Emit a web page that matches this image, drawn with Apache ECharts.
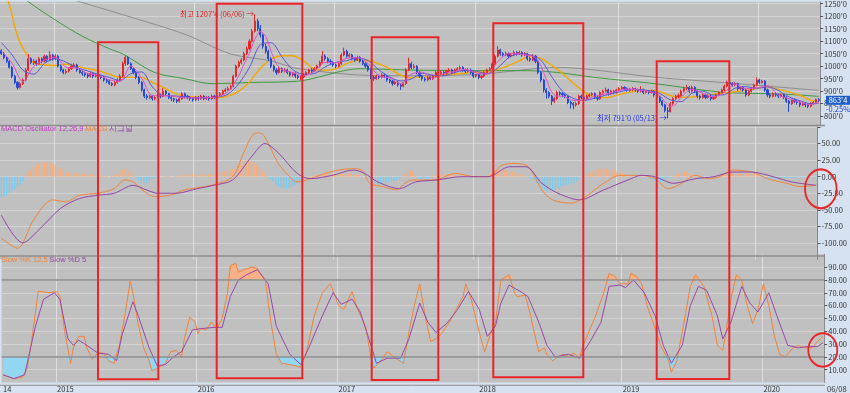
<!DOCTYPE html>
<html><head><meta charset="utf-8">
<script src="https://cdn.jsdelivr.net/npm/echarts@6/dist/echarts.min.js"></script>
<style>html,body{margin:0;padding:0;background:#d6e2ef}#c{width:850px;height:393px}</style>
</head><body><div id="c"></div><script>
// weekly candles: [open, close, low, high], week of 2014-08-18 .. 2020-06-08
const weeklyOHLC = [
[1062,1050,1045,1068],[1050,1035,1028,1056],[1035,1020,1012,1040],[1020,995,990,1024],[995,960,952,1000],[960,935,928,966],[935,915,906,940],[915,930,910,936],[930,945,925,952],[945,985,940,992],
[985,1030,980,1049],[1030,1015,1008,1036],[1015,1020,1005,1028],[1020,1010,1002,1026],[1010,1030,1005,1036],[1030,1020,1012,1035],[1020,1040,1015,1046],[1040,1025,1018,1044],[1025,1045,1020,1060],[1045,1030,1022,1050],
[1030,1040,1024,1048],[1040,1000,995,1044],[1000,985,978,1006],[985,975,968,990],[975,980,968,988],[980,990,975,996],[990,1000,985,1010],[1000,1005,994,1012],[1005,985,978,1010],[985,975,970,990],
[975,970,962,982],[970,965,958,975],[965,960,952,972],[960,970,955,976],[970,960,952,975],[960,965,955,972],[965,960,952,970],[960,955,948,966],[955,945,938,960],[945,940,932,950],
[940,930,925,946],[930,925,920,936],[925,935,920,940],[935,945,930,952],[945,960,940,968],[960,1010,955,1018],[1010,1035,1002,1042],[1035,1010,1005,1040],[1010,990,985,1015],[990,975,968,995],
[975,955,948,980],[955,935,928,960],[935,905,898,940],[905,880,872,910],[880,875,866,888],[875,880,868,886],[880,870,862,884],[870,875,864,880],[875,885,870,892],[885,880,872,890],
[880,900,876,912],[900,890,882,905],[890,875,868,894],[875,870,860,880],[870,865,856,874],[865,860,852,870],[860,870,855,876],[870,890,865,896],[890,880,872,894],[880,875,868,884],
[875,870,862,880],[870,865,858,875],[865,875,860,880],[875,870,862,880],[870,880,865,885],[880,870,864,884],[870,875,865,880],[875,870,862,880],[870,880,865,886],[880,875,868,884],
[875,885,870,890],[885,890,880,896],[890,900,885,905],[900,905,895,912],[905,910,900,918],[910,920,905,926],[920,960,915,966],[960,1000,955,1006],[1000,1015,994,1022],[1015,1025,1008,1032],
[1025,1050,1020,1058],[1050,1070,1044,1078],[1070,1100,1064,1108],[1100,1140,1095,1150],[1140,1180,1135,1207.5],[1180,1150,1140,1190],[1150,1125,1115,1165],[1125,1080,1070,1130],[1080,1060,1050,1090],[1060,1030,1020,1066],
[1030,1000,992,1036],[1000,985,978,1006],[985,975,965,992],[975,990,970,996],[990,980,972,995],[980,985,975,992],[985,975,968,990],[975,965,958,980],[965,970,958,976],[970,960,952,975],
[960,955,948,965],[950,957,945,962],[957,965,952,972],[965,975,960,980],[975,985,970,990],[985,980,972,992],[980,990,976,996],[990,1000,985,1006],[1000,1015,995,1022],[1015,1040,1010,1061],
[1040,1030,1022,1048],[1030,1020,1012,1036],[1020,1015,1006,1028],[1015,1005,998,1020],[1005,1000,992,1010],[1000,1010,995,1016],[1010,1045,1005,1052],[1045,1060,1040,1074],[1060,1040,1034,1066],[1040,1045,1034,1052],
[1045,1030,1024,1050],[1030,1025,1018,1036],[1025,1035,1020,1042],[1035,1020,1014,1040],[1020,1010,1004,1026],[1010,1000,994,1015],[1000,985,978,1005],[985,955,948,990],[955,950,942,962],[950,960,945,966],
[960,955,948,966],[955,965,950,972],[965,960,952,970],[960,945,938,965],[945,940,932,950],[940,930,922,946],[930,935,925,940],[935,925,918,940],[925,920,905,930],[920,930,915,936],
[930,985,925,992],[985,1010,980,1034],[1010,995,988,1018],[995,1000,990,1008],[1000,975,968,1004],[975,960,952,980],[960,950,942,965],[950,945,938,955],[945,955,940,960],[955,950,944,960],
[950,960,945,966],[960,975,955,980],[975,970,962,980],[970,975,965,982],[975,970,962,980],[970,980,965,986],[980,985,975,992],[985,975,968,990],[975,985,970,990],[985,990,980,996],
[990,995,985,1002],[995,985,978,1000],[985,980,972,990],[980,985,975,992],[985,975,968,990],[975,960,952,980],[960,965,955,970],[965,955,948,970],[955,960,948,965],[960,975,955,980],
[975,985,970,990],[985,990,980,996],[990,1010,985,1016],[1010,1040,1005,1046],[1040,1065,1035,1080],[1065,1050,1042,1070],[1050,1045,1038,1056],[1045,1050,1040,1058],[1050,1040,1032,1055],[1040,1045,1035,1052],
[1045,1055,1040,1062],[1055,1050,1042,1060],[1050,1055,1045,1062],[1055,1045,1038,1060],[1045,1050,1040,1056],[1050,1030,1022,1054],[1030,1025,1018,1036],[1025,1040,1020,1048],[1040,1020,1012,1045],[1020,975,968,1025],
[975,945,935,980],[945,905,895,950],[905,895,870,912],[895,880,872,900],[880,860,845,885],[860,870,852,876],[870,895,865,902],[895,890,882,900],[890,885,876,896],[885,880,872,890],
[880,855,848,884],[855,850,830,862],[850,845,828,856],[845,850,838,858],[850,880,845,886],[880,875,868,886],[875,870,862,880],[870,880,865,886],[880,885,875,892],[885,890,880,896],
[890,875,868,895],[875,870,862,880],[870,895,865,900],[895,900,890,906],[900,905,895,914],[905,890,882,910],[890,900,885,906],[900,895,888,904],[895,905,890,910],[905,910,900,916],
[910,915,904,920],[915,910,902,920],[910,905,898,915],[903,906,898,912],[906,910,900,916],[910,905,898,914],[905,900,893,910],[900,905,895,920],[905,895,888,910],[895,900,890,905],
[900,895,888,905],[895,900,890,906],[900,885,878,904],[885,875,868,890],[875,860,852,880],[860,845,838,864],[845,822,815,850],[822,818,791,836],[818,850,815,856],[850,870,845,876],
[870,880,865,886],[878,882,872,890],[882,900,878,906],[900,910,895,918],[910,915,904,925],[915,900,892,920],[900,915,895,922],[915,900,892,920],[900,880,872,904],[880,875,866,886],
[875,885,870,890],[885,875,868,890],[875,880,870,886],[880,870,862,885],[870,875,865,880],[875,885,870,890],[885,895,880,900],[895,905,890,910],[905,920,900,926],[920,935,915,942],
[935,930,922,940],[930,925,918,936],[925,930,920,936],[930,910,902,934],[910,915,905,920],[915,905,898,920],[905,885,878,910],[885,900,880,905],[900,910,895,915],[910,925,905,930],
[925,945,920,955],[945,935,928,950],[935,940,930,946],[940,905,898,944],[905,885,876,910],[885,880,872,890],[880,890,875,895],[890,885,878,895],[885,880,872,890],[880,885,875,890],
[885,875,868,890],[875,860,852,880],[860,850,817,866],[850,865,845,870],[865,860,852,870],[860,855,846,866],[855,845,836,860],[845,850,840,856],[850,845,836,855],[845,840,832,850],
[840,850,835,856],[850,855,845,860],[855,866,848,870],[866,863.5,856,872]
];
// moving averages: [week index, value]
const ma5 = [[0,1061],[4,1012],[8,937],[12,999],[16,1024],[20,1036],[24,996],[28,992],[32,971],[36,963],[40,946],[44,939],[48,1001],[52,952],[56,882],[60,882],[64,880],[68,873],[72,873],[76,874],[80,877],[84,898],[88,961],[90,1010],[92,1052],[94,1108],[96,1139],[98,1119],[100,1059],[102,1010],[104,986],[108,975],[112,961],[116,979],[120,1015],[124,1014],[128,1031],[132,1035],[136,1010],[140,961],[144,953],[148,930],[152,968],[156,976],[160,952],[164,970],[168,979],[172,987],[176,973],[180,968],[184,1018],[188,1050],[192,1049],[196,1041],[198,1033],[200,1001],[202,948],[204,897],[206,880],[208,880],[212,863],[216,864],[220,880],[224,889],[228,899],[232,909],[236,905],[240,899],[244,883],[246,857],[248,839],[250,848],[252,876],[256,908],[260,891],[264,877],[268,896],[272,928],[276,909],[280,913],[284,922],[288,884],[292,870],[296,855],[300,846],[303,855]];
const ma10 = [[0,1095],[4,1045],[8,984],[12,968],[16,1011],[20,1030],[24,1016],[28,994],[32,981],[36,967],[40,955],[44,943],[48,970],[52,977],[56,917],[60,882],[64,881],[68,877],[72,873],[76,874],[80,876],[84,888],[88,930],[92,996],[96,1086],[100,1094],[104,1038],[108,986],[112,968],[116,970],[120,997],[124,1015],[128,1022],[132,1033],[136,1022],[140,985],[144,957],[148,941],[152,949],[156,972],[160,964],[164,961],[168,975],[172,983],[176,980],[180,970],[184,993],[188,1034],[192,1050],[196,1045],[200,1024],[204,958],[208,900],[212,871],[216,863],[220,872],[224,884],[228,894],[232,904],[236,907],[240,902],[244,891],[248,865],[252,858],[256,892],[260,900],[264,884],[268,886],[272,912],[276,918],[280,911],[284,917],[288,903],[292,877],[296,862],[300,850],[303,851]];
const ma20 = [[0,1330],[3,1245],[6,1120],[9,1054],[12,1014],[16,1005],[20,1003],[24,1008],[28,1000],[32,990],[36,981],[40,968],[44,955],[48,955],[52,955],[56,935],[60,915],[64,893],[68,879],[72,877],[76,875],[80,874],[84,880],[88,900],[92,937],[96,992],[100,1028],[104,1042],[108,1042],[112,1021],[116,988],[120,984],[124,989],[128,1010],[132,1024],[136,1023],[140,1009],[144,990],[148,964],[152,953],[156,957],[160,957],[164,967],[168,969],[172,972],[176,977],[180,977],[184,987],[188,1002],[192,1021],[196,1040],[200,1031],[204,1003],[208,971],[212,932],[216,898],[220,876],[224,874],[228,883],[232,894],[236,901],[240,903],[244,898],[248,882],[252,875],[256,877],[260,879],[264,888],[268,893],[272,898],[276,903],[280,912],[284,918],[288,907],[292,897],[296,883],[300,864],[303,857]];
const ma60 = [[0,1340],[10,1258],[20,1185],[30,1120],[40,1070],[45,1049],[57,974],[68,950],[78,930],[93,935],[110,940],[133,990],[150,985],[176,982],[195,982],[206,975],[220,955],[243,929],[267,896],[290,888],[303,879]];
const ma120 = [[0,1350],[29,1258],[50,1190],[68,1128],[85,1049],[100,1021],[110,990],[140,962],[175,966],[206,995],[243,955],[267,935],[303,903]];
// MACD (12,26,9) lines: [week index, value]
const macdLine = [[0,-93],[6,-108],[12,-65],[19,-35],[24,-38],[29,-28],[36,-25],[42,-18],[46,-5],[49,-8],[54,-25],[57,-30],[63,-28],[68,-20],[78,-13],[86,0],[90,35],[94,65],[96,66],[98,60],[103,20],[108,-3],[110,-8],[115,-3],[122,7],[130,12],[134,10],[137,-10],[142,-15],[147,-20],[150,-10],[153,-5],[161,-5],[169,5],[176,0],[181,0],[186,17],[191,20],[196,15],[201,-20],[205,-35],[212,-40],[218,-28],[224,-10],[230,2],[238,2],[243,-3],[248,-18],[253,-10],[258,2],[263,-3],[267,0],[272,10],[279,7],[285,-3],[292,-10],[297,-15],[303,-13]];
const signalLine = [[0,-58],[8,-100],[14,-80],[22,-48],[29,-33],[36,-28],[42,-25],[49,-13],[54,-20],[58,-25],[65,-25],[73,-18],[79,-13],[86,-5],[93,30],[98,50],[103,36],[110,5],[115,-3],[123,2],[131,10],[135,5],[140,-8],[148,-18],[154,-8],[162,-5],[171,0],[181,0],[189,15],[195,15],[201,-10],[207,-25],[215,-35],[224,-20],[233,-5],[238,2],[243,0],[250,-10],[258,-3],[265,0],[272,7],[279,7],[287,0],[294,-8],[303,-13]];
// MACD oscillator, one value per week
const macdOsc = [-32,-30,-28,-25,-22,-19,-16,-12,-8,
3,7,11,15,18,20,21,22,22,21,20,18,15,12,10,8,
6,6,5,5,6,5,5,4,4,3,3, 2,2,1,1,0,1,2, 4,8,11,12,10,6,2, -3,-6,-9,-10,-9,-7,-4,-2,
-1,0,0,1,1,0,0,1,1, 2,3,3,4,4,4,4,3,3,4,4,4,5, 5,6,7,8,9,10,12,14,17, 20,22,24,25,24, 22,18,14,10,5, 1,-3,
-8,-12,-15,-17,-18,-18,-17,-15,-13,-10,-6,-3, 0,1,1,2,2, 3,4,4,5,5,5,4,4,4,4,5,5,4,4,3,3, 2,0,-2,
-5,-8,-10,-11,-11,-10,-9,-8,-7,-6,-5,-3,-1, 4,8,10,7, 2,-2,-4,-5,-4,-3, 1,2,2,3,3,3,4,4,3,3,3,2,2,1,
0,0,-1,0,0,0,1,2, 4,7,9,10,10,10,9,8,7, 6,5,4,2,1, -1,-3,-5,-9, -13,-17,-20,-22,-22,-21,-19, -17,-15,-14,-13,-12,-11,-10,
-7,-4,-1,2,4,6,8,10,11,12,12,12,11,10,9,8,7,6,4,2,1, 0,0,0,1,0,0, -2,-4,-6,-8,-8,-7,-5,-2, 0,1, 3,5,7,8,7,5,3,
1,-1,-2,-2,-2,-1,-1,0,0, 2,3,4,5,5,5,5,4,4,4,5,5,4,4,3, 1,-1,-2,-3,-3,-3,-3,-2, -2,-2,-2,-2,-2,-2,-1,-1,-1,-1,-1,-1,-1,-1];
// Slow stochastic: [week index, value]
const slowK = [[0,6],[4,3],[7,4],[9,11],[11,39],[13,71],[14,71],[17,70],[20,71],[21,67],[23,37],[25,15],[26,27],[28,36],[30,36],[31,27],[33,18],[35,23],[37,23],[39,17],[41,15],[43,29],[45,52],[47,79],[48,70],[50,45],[52,27],[54,17],[55,9],[57,11],[60,15],[62,24],[64,25],[66,20],[67,34],[69,51],[71,47],[72,38],[73,42],[75,41],[77,47],[79,42],[81,50],[83,70],[84,91],[86,93],[87,86],[89,88],[92,90],[94,89],[97,79],[99,47],[101,22],[103,15],[106,14],[110,12],[112,22],[115,52],[118,70],[121,77],[124,60],[126,57],[129,71],[131,57],[134,44],[136,19],[137,11],[140,18],[142,24],[145,19],[148,15],[150,39],[152,60],[154,77],[156,52],[158,32],[160,34],[162,38],[165,47],[167,55],[170,67],[171,77],[173,65],[176,39],[178,24],[180,37],[182,47],[184,80],[187,84],[189,70],[190,67],[193,68],[195,52],[196,42],[198,24],[200,27],[201,22],[203,17],[207,22],[209,20],[211,23],[213,19],[214,27],[217,42],[219,52],[222,70],[224,85],[226,83],[228,77],[231,77],[232,85],[234,83],[236,77],[238,60],[241,42],[243,29],[246,17],[247,8],[249,17],[251,39],[254,75],[256,84],[257,81],[259,75],[262,52],[264,29],[266,25],[267,37],[269,65],[271,84],[273,80],[275,60],[277,46],[279,57],[281,77],[283,60],[285,37],[287,22],[289,20],[292,27],[294,29],[296,27],[299,27],[301,32],[303,36]];
const slowD = [[0,6],[4,3],[8,6],[12,44],[15,65],[19,70],[21,65],[24,34],[26,29],[28,33],[31,29],[35,23],[39,22],[42,17],[44,37],[48,63],[50,52],[54,27],[57,13],[60,14],[63,20],[66,24],[70,41],[73,42],[78,43],[81,43],[84,67],[87,80],[90,84],[94,88],[98,77],[101,44],[106,22],[110,14],[113,27],[118,52],[122,70],[125,61],[129,65],[132,55],[136,29],[138,15],[142,19],[147,19],[150,34],[154,62],[157,47],[160,39],[164,46],[168,57],[172,71],[176,57],[179,36],[182,44],[184,62],[187,76],[192,70],[194,67],[198,47],[201,29],[204,20],[209,22],[213,19],[217,32],[221,47],[224,75],[228,76],[230,74],[233,80],[237,70],[241,52],[244,29],[247,15],[251,29],[254,60],[257,75],[260,72],[264,52],[266,34],[269,47],[273,75],[276,62],[279,55],[283,70],[286,52],[290,29],[294,27],[297,28],[301,28],[303,31]];
const lastChangePct = '-0.25%';

const FONT = '"Noto Sans CJK KR","Noto Sans",sans-serif';
const N = weeklyOHLC.length;
const t0 = Date.UTC(2014, 7, 18);
const dates = [];
for (let i = 0; i < N; i++) dates.push(new Date(t0 + i * 7 * 864e5).toISOString().slice(0, 10));
const yearStart = dates.map((d, i) => i > 0 && d.slice(0, 4) !== dates[i - 1].slice(0, 4));
const md = i => dates[i].slice(5, 7) + '/' + dates[i].slice(8, 10);
const fmtP = v => { const n = Math.floor(v + 1e-9); return n + "'" + Math.round((v - n) * 8); };
const P = arr => arr.map(([i, v]) => [dates[i], v]);
const highs = weeklyOHLC.map(r => r[3]), lows = weeklyOHLC.map(r => r[2]);
let hiIdx = 0, loIdx = 0;
highs.forEach((v, i) => { if (v > highs[hiIdx]) hiIdx = i; });
lows.forEach((v, i) => { if (v < lows[loIdx]) loIdx = i; });
const lastClose = weeklyOHLC[N - 1][1];

const chart = echarts.init(document.getElementById('c'));
const xBase = (g) => ({
  type: 'category', gridIndex: g, data: dates, boundaryGap: true,
  axisLine: { show: false }, axisTick: { show: false }, axisLabel: { show: false },
  splitLine: { show: true, interval: (i) => yearStart[i], lineStyle: { color: '#dedede', width: 1 } }
});
const yBase = (g) => ({
  type: 'value', gridIndex: g, position: 'right',
  axisLine: { show: true, lineStyle: { color: '#8a8a8a' } },
  axisTick: { show: true, length: 3, lineStyle: { color: '#555' } },
  axisLabel: { fontSize: 7.5, color: '#333', margin: 4, fontFamily: FONT, showMinLabel: false, showMaxLabel: false },
  splitLine: { show: true, showMinLine: false, showMaxLine: false, lineStyle: { color: '#d3d3d3', width: 1 } }
});
const yPrice = yBase(0); Object.assign(yPrice, { min: 762.5, max: 1257.9, splitNumber: 10 });
yPrice.axisLabel.formatter = fmtP;
const yMacd = yBase(1); Object.assign(yMacd, { min: -125, max: 78, interval: 25 });
yMacd.axisLabel.formatter = v => (v > 60 ? '' : v.toFixed(2));
const yStoch = yBase(2); Object.assign(yStoch, { min: 0, max: 100, interval: 10 });
yStoch.axisLabel.formatter = v => v.toFixed(2);
const xStoch = xBase(2);
xStoch.axisLabel = { show: true, interval: (i) => i === 0 || yearStart[i], formatter: (v, i) => i === 0 ? v.slice(2, 4) : v.slice(0, 4), align: 'left', fontSize: 7.5, color: '#333', margin: 3, fontFamily: FONT };

const line = (name, data, color, xi, w, smooth, z) => ({
  name, type: 'line', xAxisIndex: xi, yAxisIndex: xi, data: P(data), symbol: 'none', smooth: smooth,
  lineStyle: { color, width: w }, itemStyle: { color }, z: z || 3, silent: true, animation: false
});

const option = {
  animation: false,
  backgroundColor: '#d6e2ef',
  textStyle: { fontFamily: FONT },
  grid: [
    { left: 0, right: 25, top: 0, height: 125.5, show: true, backgroundColor: '#c0c0c0', borderWidth: 0 },
    { left: 0, right: 25, top: 125, height: 134.5, show: true, backgroundColor: '#c0c0c0', borderWidth: 0 },
    { left: 0, right: 25, top: 254.3, height: 130.5, show: true, backgroundColor: '#c0c0c0', borderWidth: 0 }
  ],
  xAxis: [xBase(0), xBase(1), xStoch],
  yAxis: [yPrice, yMacd, yStoch],
  series: [
    line('MA120', ma120, '#8e8e8e', 0, 1, 0.3, 2),
    line('MA60', ma60, '#3f9a3f', 0, 1, 0.3, 2),
    line('MA20', ma20, '#f2a800', 0, 1.4, 0.3, 2),
    {
      type: 'candlestick', xAxisIndex: 0, yAxisIndex: 0, data: weeklyOHLC, barWidth: 1.6, z: 3,
      itemStyle: { color: '#e8262a', color0: '#2448d8', borderColor: '#e8262a', borderColor0: '#2448d8', borderWidth: 1 },
      markPoint: {
        symbol: 'circle', symbolSize: 0, silent: true, animation: false,
        data: [
          { coord: [dates[hiIdx], highs[hiIdx]], label: { show: true, position: 'left', distance: 1, fontSize: 7.5, color: '#e02020', formatter: `최고 ${fmtP(highs[hiIdx])} (${md(hiIdx)}) →` } },
          { coord: [dates[loIdx], lows[loIdx]], label: { show: true, position: 'left', distance: 1, fontSize: 7.5, color: '#2634e0', formatter: `최저 ${fmtP(lows[loIdx])} (${md(loIdx)}) →` } }
        ]
      }
    },
    line('MA10', ma10, '#5a5ad2', 0, 1, 0.3, 4),
    line('MA5', ma5, '#e050c8', 0, 1, 0.3, 4),
    {
      type: 'bar', xAxisIndex: 1, yAxisIndex: 1, data: macdOsc, barWidth: 1.5, silent: true, z: 2,
      itemStyle: { color: (p) => p.value >= 0 ? '#f7ad7c' : '#7ccbf0' }
    },
    line('MACD', macdLine, '#f0843a', 1, 1, 0.3, 3),
    line('Signal', signalLine, '#9444a4', 1, 1, 0.3, 3),
    {
      type: 'line', xAxisIndex: 2, yAxisIndex: 2, data: P(slowK).map(([d, v]) => [d, Math.max(v, 80)]), symbol: 'none',
      lineStyle: { width: 0 }, areaStyle: { origin: 80, color: '#f7b189', opacity: 1 }, z: 1, silent: true
    },
    {
      type: 'line', xAxisIndex: 2, yAxisIndex: 2, data: P(slowK).map(([d, v]) => [d, Math.min(v, 20)]), symbol: 'none',
      lineStyle: { width: 0 }, areaStyle: { origin: 20, color: '#93d6f2', opacity: 1 }, z: 1, silent: true
    },
    Object.assign(line('Slow %K', slowK, '#f0843a', 2, 1, false, 3), {
      markLine: { silent: true, symbol: ['none', 'none'], label: { show: false }, animation: false,
        lineStyle: { color: '#8e8e8e', width: 1.5, type: 'solid' }, data: [{ yAxis: 80 }, { yAxis: 20 }] }
    }),
    line('Slow %D', slowD, '#9848a8', 2, 1, false, 3)
  ]
};
chart.setOption(option);

const py = chart.convertToPixel({ yAxisIndex: 0 }, lastClose);
const red = '#e8262a';
const box = (x1, y1, x2, y2) => ({ type: 'rect', shape: { x: x1, y: y1, width: x2 - x1, height: y2 - y1 }, style: { fill: 'none', stroke: red, lineWidth: 2 }, z: 100, silent: true });
const ring = (cx, cy, rx, ry) => ({ type: 'circle', x: cx, y: cy, scaleY: ry / rx, shape: { cx: 0, cy: 0, r: rx }, style: { fill: 'none', stroke: red, lineWidth: 1.8 }, z: 100, silent: true });
const sep = (y, w) => ({ type: 'line', shape: { x1: 0, y1: y, x2: 825, y2: y }, style: { stroke: '#8e8e8e', lineWidth: w }, z: 50, silent: true });
chart.setOption({
  graphic: { elements: [
    sep(125.5, 1.5), sep(256, 1.5), sep(385.3, 1),
    { type: 'text', left: 1, top: 124.5, z: 60, style: { text: '{a|MACD Oscillator 12,26,9} {b|MACD} {c|시그널}', font: '7.5px ' + FONT,
      rich: { a: { fill: '#c03cc0', fontSize: 7.5 }, b: { fill: '#f0843a', fontSize: 7.5 }, c: { fill: '#9444a4', fontSize: 7.5 } } } },
    { type: 'text', left: 1, top: 255.5, z: 60, style: { text: '{a|Slow %K 12,5} {b|Slow %D 5}', font: '7.5px ' + FONT,
      rich: { a: { fill: '#f0843a', fontSize: 7.5 }, b: { fill: '#9444a4', fontSize: 7.5 } } } },
    { type: 'rect', shape: { x: 826, y: py - 4.5, width: 24, height: 9 }, style: { fill: '#1f5fc8' }, z: 60 },
    { type: 'text', x: 838, y: py, z: 61, style: { text: fmtP(lastClose), fill: '#ffffff', font: '7.5px ' + FONT, align: 'center', verticalAlign: 'middle' } },
    { type: 'text', x: 838, y: py + 8.5, z: 61, style: { text: lastChangePct, fill: '#2040d0', font: '7.5px ' + FONT, align: 'center', verticalAlign: 'middle' } },
    { type: 'text', x: 827, y: 389.5, z: 61, style: { text: md(N - 1), fill: '#333', font: '7.5px ' + FONT, verticalAlign: 'middle' } },
    box(98, 42.3, 158.3, 379.3), box(216.7, 3.7, 302.3, 378.3), box(371.7, 37.3, 438.3, 380),
    box(493.3, 23.3, 583.3, 377.3), box(656.7, 61.3, 729.3, 379),
    ring(820.8, 188.8, 15.8, 19.5), ring(822.8, 350, 14.5, 16.7)
  ] }
});
</script></body></html>
